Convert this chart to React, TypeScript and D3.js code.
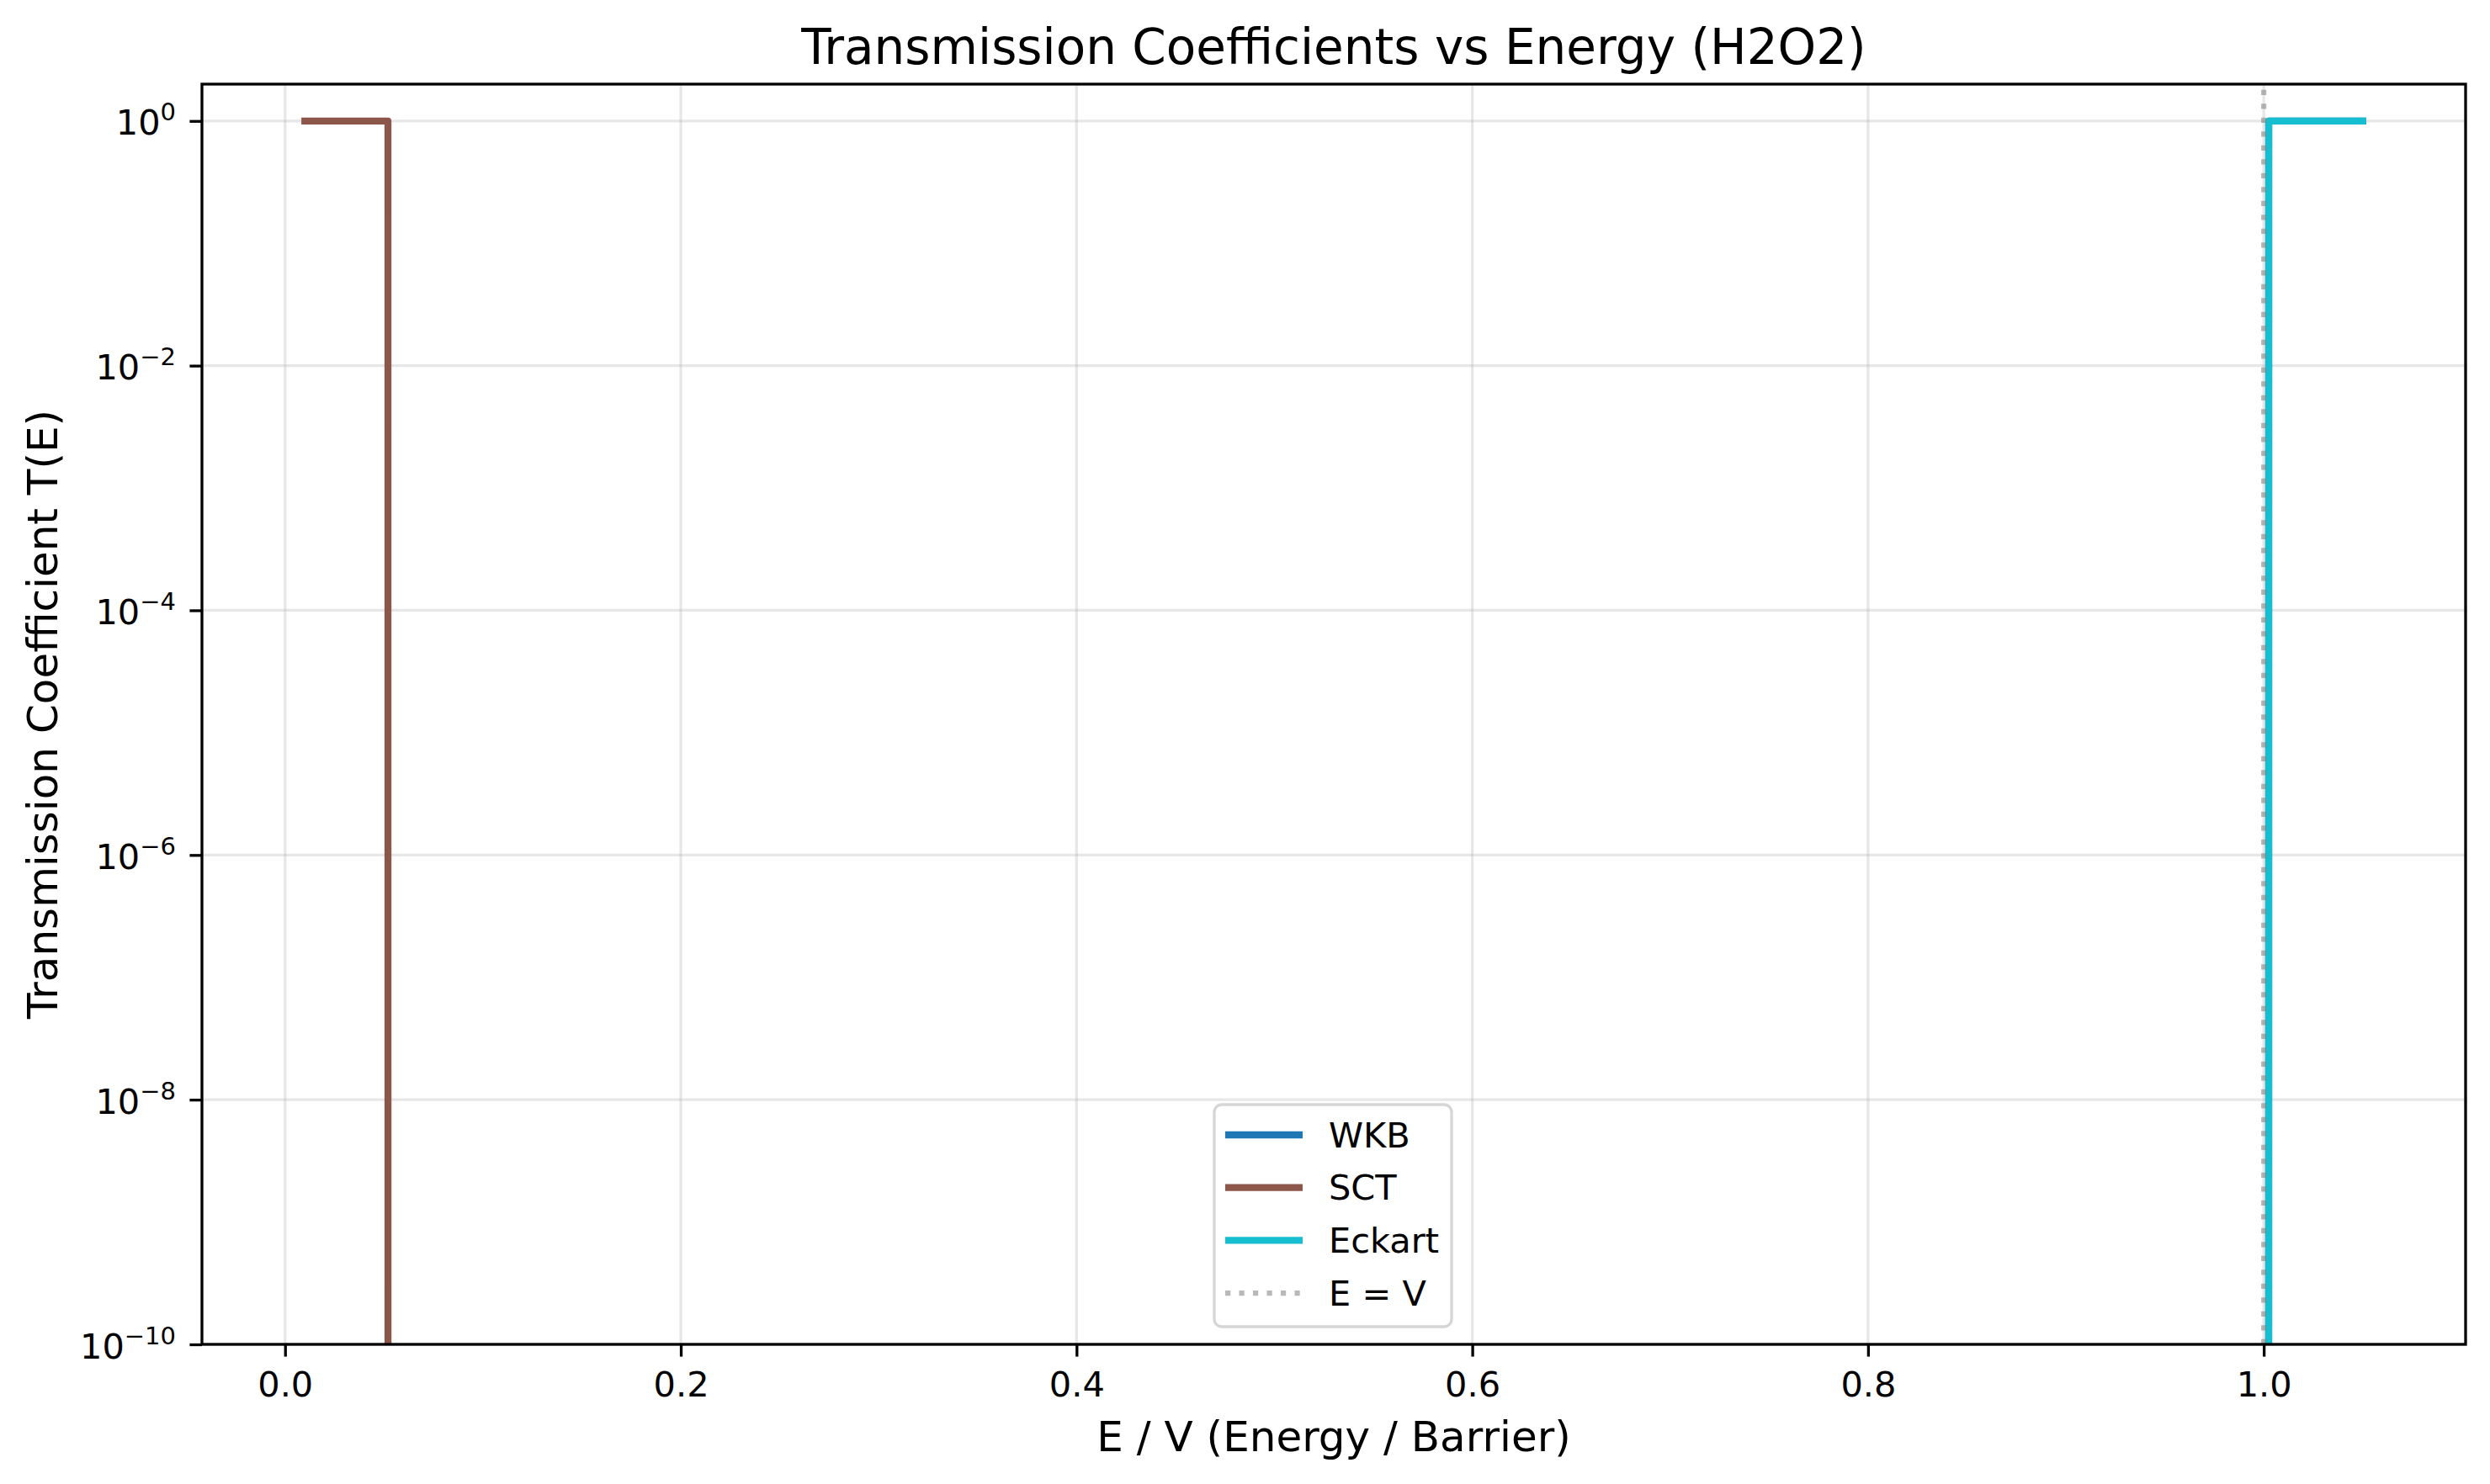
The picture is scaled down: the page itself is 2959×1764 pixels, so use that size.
import { axisBottom, axisLeft, line, scaleLinear, scaleLog, select } from 'd3';
import React, { RefObject, useEffect, useRef } from 'react';

// E / V grid and transmission values (0 = below 1e-10, clipped)
const energyRatio = [0.01, 0.052, 0.0525, 0.2, 0.4, 0.6, 0.8, 1.0, 1.002, 1.0025, 1.03, 1.05];
const wkbValues = [0, 0, 0, 0, 0, 0, 0, 0, 0, 1, 1, 1];
const sctValues = [1, 1, 0, 0, 0, 0, 0, 0, 0, 0, 0, 0];
const eckartValues = [0, 0, 0, 0, 0, 0, 0, 0, 0, 1, 1, 1];

const seriesNames = ['WKB', 'SCT', 'Eckart'];
const seriesColors = ['#1f77b4', '#8c564b', '#17becf'];
const barrierLine = 1.0;
const barrierLabel = 'E = V';

const xTicks = [0.0, 0.2, 0.4, 0.6, 0.8, 1.0];
const yTickExponents = [0, -2, -4, -6, -8, -10];
const xDomain = [-0.042, 1.102];
const yDomain = [1e-10, 2];

const title = 'Transmission Coefficients vs Energy (H2O2)';
const xLabel = 'E / V (Energy / Barrier)';
const yLabel = 'Transmission Coefficient T(E)';

const W = 2959;
const H = 1764;
const FONT = '"DejaVu Sans", sans-serif';

export default function App() {
  const svgRef = useRef<SVGSVGElement>(null);

  useEffect(() => {
    renderChart(svgRef);
  }, []);

  return (
    <div style={{ position: 'absolute', left: 0, top: 0 }}>
      <svg ref={svgRef} width={W} height={H} style={{ display: 'block', background: '#fff' }} />
    </div>
  );
}

function renderChart(svgRef: RefObject<SVGSVGElement>) {
  const svg = select(svgRef.current);
  svg.selectAll('*').remove();

  const L = 240;
  const R = 2930;
  const T = 100;
  const B = 1598;

  const x = scaleLinear().domain(xDomain).range([L, R]);
  const y = scaleLog().domain(yDomain).range([B, T]);
  const yTicks = yTickExponents.map(e => Math.pow(10, e));

  svg.append('rect').attr('width', W).attr('height', H).attr('fill', '#fff');

  svg
    .append('defs')
    .append('clipPath')
    .attr('id', 'plot-clip')
    .append('rect')
    .attr('x', L)
    .attr('y', T)
    .attr('width', R - L)
    .attr('height', B - T);

  // grid
  const grid = svg.append('g').attr('stroke', '#b0b0b0').attr('stroke-opacity', 0.3).attr('stroke-width', 3.3);
  grid
    .selectAll('line.gx')
    .data(xTicks)
    .join('line')
    .attr('class', 'gx')
    .attr('x1', d => x(d))
    .attr('x2', d => x(d))
    .attr('y1', T)
    .attr('y2', B);
  grid
    .selectAll('line.gy')
    .data(yTicks)
    .join('line')
    .attr('class', 'gy')
    .attr('x1', L)
    .attr('x2', R)
    .attr('y1', d => y(d))
    .attr('y2', d => y(d));

  // series
  const plot = svg.append('g').attr('clip-path', 'url(#plot-clip)');
  const allSeries = [wkbValues, sctValues, eckartValues];
  const path = line<number>()
    .x((_, i) => x(energyRatio[i]))
    .y(v => y(Math.max(v, 1e-300)));

  allSeries.forEach((vals, i) => {
    plot
      .append('path')
      .attr('d', path(vals))
      .attr('fill', 'none')
      .attr('stroke', seriesColors[i])
      .attr('stroke-width', 8.3)
      .attr('stroke-linejoin', 'round')
      .attr('stroke-linecap', 'square');
  });

  plot
    .append('line')
    .attr('x1', x(barrierLine))
    .attr('x2', x(barrierLine))
    .attr('y1', B)
    .attr('y2', T)
    .attr('stroke', '#808080')
    .attr('stroke-opacity', 0.55)
    .attr('stroke-width', 6.2)
    .attr('stroke-dasharray', '6.2 10.3');

  // axes
  const xAxis = axisBottom(x)
    .tickValues(xTicks)
    .tickSize(14.6)
    .tickPadding(18)
    .tickFormat(d => (d as number).toFixed(1));
  const gx = svg.append('g').attr('transform', `translate(0,${B})`).call(xAxis);
  gx.select('.domain').remove();
  gx.selectAll('line').attr('stroke', '#000').attr('stroke-width', 3.3);
  gx.selectAll('text')
    .attr('fill', '#000')
    .style('font-family', FONT)
    .style('font-size', '41.5px');

  const yAxis = axisLeft(y).tickValues(yTicks).tickSize(14.6).tickPadding(16.4);
  const gy = svg.append('g').attr('transform', `translate(${L},0)`).call(yAxis);
  gy.select('.domain').remove();
  gy.selectAll('line').attr('stroke', '#000').attr('stroke-width', 3.3);
  gy.selectAll<SVGTextElement, number>('text').each(function (_, i) {
    const t = select(this);
    t.text(null)
      .attr('dy', null)
      .attr('y', 16)
      .attr('fill', '#000')
      .style('font-family', FONT)
      .style('font-size', '41.5px');
    t.append('tspan').text('10');
    const e = yTickExponents[i];
    t.append('tspan')
      .attr('dy', -17)
      .style('font-size', '29px')
      .text(e < 0 ? `\u2212${-e}` : `${e}`);
  });

  // spines
  svg
    .append('rect')
    .attr('x', L)
    .attr('y', T)
    .attr('width', R - L)
    .attr('height', B - T)
    .attr('fill', 'none')
    .attr('stroke', '#000')
    .attr('stroke-width', 3.3)
    .attr('stroke-linecap', 'square');

  // labels
  svg
    .append('text')
    .attr('x', (L + R) / 2)
    .attr('y', 76)
    .attr('text-anchor', 'middle')
    .style('font-family', FONT)
    .style('font-size', '58px')
    .text(title);

  svg
    .append('text')
    .attr('x', (L + R) / 2)
    .attr('y', 1725)
    .attr('text-anchor', 'middle')
    .style('font-family', FONT)
    .style('font-size', '50px')
    .text(xLabel);

  svg
    .append('text')
    .attr('transform', `translate(68,${(T + B) / 2}) rotate(-90)`)
    .attr('text-anchor', 'middle')
    .style('font-family', FONT)
    .style('font-size', '50px')
    .text(yLabel);

  // legend
  const legend = svg.append('g').attr('transform', 'translate(1443,1313)');
  legend
    .append('rect')
    .attr('width', 282)
    .attr('height', 264)
    .attr('rx', 9)
    .attr('fill', '#fff')
    .attr('fill-opacity', 0.8)
    .attr('stroke', '#cccccc')
    .attr('stroke-opacity', 0.8)
    .attr('stroke-width', 3.3);

  const entries = [
    ...seriesNames.map((name, i) => ({ name, color: seriesColors[i], dotted: false })),
    { name: barrierLabel, color: '#808080', dotted: true },
  ];
  const row = legend
    .selectAll('g.entry')
    .data(entries)
    .join('g')
    .attr('class', 'entry')
    .attr('transform', (_, i) => `translate(0,${36 + i * 62.7})`);

  row
    .append('line')
    .attr('x1', 13)
    .attr('x2', 105)
    .attr('stroke', d => d.color)
    .attr('stroke-opacity', d => (d.dotted ? 0.55 : 1))
    .attr('stroke-width', d => (d.dotted ? 6.2 : 8.3))
    .attr('stroke-dasharray', d => (d.dotted ? '6.2 10.3' : null));

  row
    .append('text')
    .attr('x', 136)
    .attr('y', 14.5)
    .style('font-family', FONT)
    .style('font-size', '41.5px')
    .text(d => d.name);
}
